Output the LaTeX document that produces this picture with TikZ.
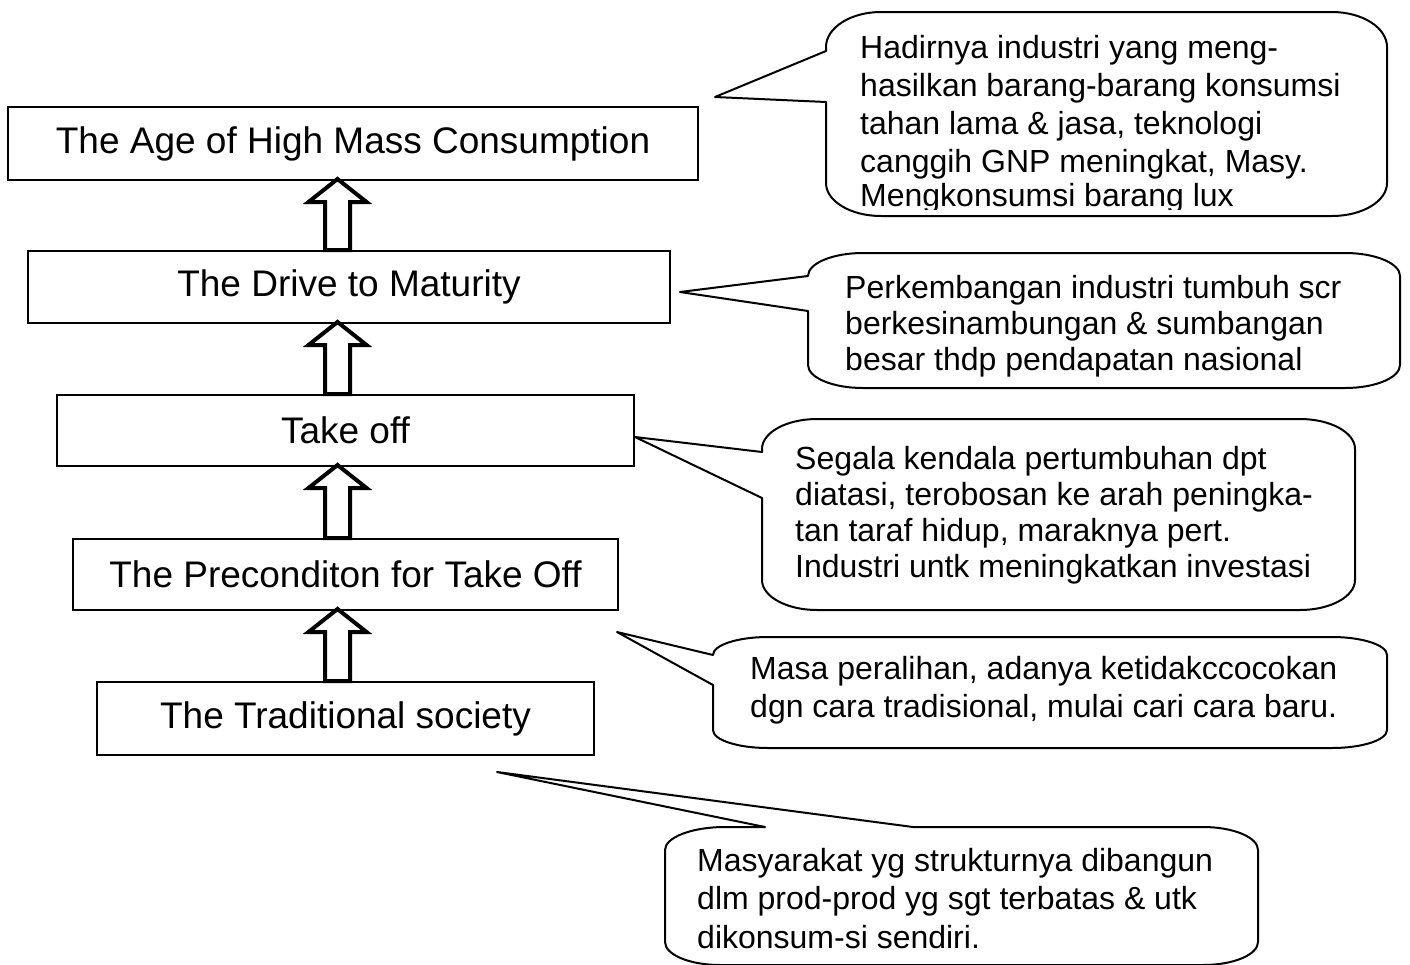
\documentclass[tikz,border=0pt]{standalone}
\usepackage{fontspec}
\setmainfont{Liberation Sans}
\usetikzlibrary{calc}
\newcommand\upblock[2]{%
  \path (#2.south -| ax) ++(0,-2) coordinate (T) (#1.north -| ax) coordinate (B);
  \draw[upblockstyle] ($(B)+(-12.5,0)$) -- ($(T)+(-12.5,23)$) -- ($(T)+(-29,23)$) -- (T)
     -- ($(T)+(29,23)$) -- ($(T)+(12.5,23)$) -- ($(B)+(12.5,0)$) -- cycle;}
\begin{document}
\begin{tikzpicture}[x=1pt,y=-1pt,
  stage/.style={draw, line width=2pt, inner sep=0pt, font=\fontsize{37}{44}\selectfont},
  upblockstyle/.style={draw, line width=4pt, fill=white, line join=miter},
  callout/.style={draw, line width=2pt, fill=white, line join=round},
  note/.style={anchor=north west, inner sep=0pt, align=left}]
\useasboundingbox (0,0) rectangle (1410,964);
\fill[white] (0,0) rectangle (1410,964);

% stages
\node[stage, minimum width=690, minimum height=73] (s5) at (353,143.5) {The Age of High Mass Consumption};
\node[stage, minimum width=642, minimum height=72] (s4) at (349,287) {The Drive to Maturity};
\node[stage, minimum width=577, minimum height=71] (s3) at (345.5,430.5) {Take off};
\node[stage, minimum width=545, minimum height=71] (s2) at (345.5,574.5) {The Preconditon for Take Off};
\node[stage, minimum width=497, minimum height=73] (s1) at (345.5,718.5) {The Traditional society};

\coordinate (ax) at (337.5,0);
\upblock{s4}{s5}
\upblock{s3}{s4}
\upblock{s2}{s3}
\upblock{s1}{s2}

% callout tips
\coordinate (c1) at (715,97);
\coordinate (c2) at (680,292);
\coordinate (c3) at (635,437);
\coordinate (c4) at (617,632);
\coordinate (c5) at (497,772);

% callout 1
\draw[callout] (826,51) -- (826,47) arc[start angle=180,end angle=270,x radius=55,y radius=35]
  -- (1332,12) arc[start angle=270,end angle=360,x radius=55,y radius=35]
  -- (1387,183) arc[start angle=0,end angle=90,x radius=55,y radius=33]
  -- (881,216) arc[start angle=90,end angle=180,x radius=55,y radius=33]
  -- (826,102) -- (c1) -- cycle;
\begin{scope}
\clip (826,12) rectangle (1387,209);
\node[note, font=\fontsize{32}{38}\selectfont] (t1) at (860,35) {Hadirnya industri yang meng-\\hasilkan barang-barang konsumsi\\tahan lama \& jasa, teknologi\\canggih GNP meningkat, Masy.\\[-4pt]Mengkonsumsi barang lux};
\end{scope}

% callout 2
\draw[callout] (808,276) arc[start angle=180,end angle=270,x radius=55,y radius=23]
  -- (1345,253) arc[start angle=270,end angle=360,x radius=55,y radius=23]
  -- (1400,365) arc[start angle=0,end angle=90,x radius=55,y radius=23]
  -- (863,388) arc[start angle=90,end angle=180,x radius=55,y radius=23]
  -- (808,311) -- (c2) -- cycle;
\node[note, font=\fontsize{32}{36}\selectfont] (t2) at (845,275) {Perkembangan industri tumbuh scr\\berkesinambungan \& sumbangan\\besar thdp pendapatan nasional};

% callout 3
\draw[callout] (762,452) -- (762,449) arc[start angle=180,end angle=270,x radius=55,y radius=30]
  -- (1300,419) arc[start angle=270,end angle=360,x radius=55,y radius=30]
  -- (1355,580) arc[start angle=0,end angle=90,x radius=55,y radius=30]
  -- (817,610) arc[start angle=90,end angle=180,x radius=55,y radius=30]
  -- (762,498) -- (c3) -- cycle;
\node[note, font=\fontsize{32}{36}\selectfont] (t3) at (795,446) {Segala kendala pertumbuhan dpt\\diatasi, terobosan ke arah peningka-\\tan taraf hidup, maraknya pert.\\Industri untk meningkatkan investasi};

% callout 4
\draw[callout] (713,655) arc[start angle=180,end angle=270,x radius=55,y radius=18]
  -- (1332,637) arc[start angle=270,end angle=360,x radius=55,y radius=18]
  -- (1387,730) arc[start angle=0,end angle=90,x radius=55,y radius=18]
  -- (768,748) arc[start angle=90,end angle=180,x radius=55,y radius=18]
  -- (713,685) -- (c4) -- cycle;
\node[note, font=\fontsize{32}{38}\selectfont] (t4) at (750,656) {Masa peralihan, adanya ketidakccocokan\\dgn cara tradisional, mulai cari cara baru.};

% callout 5
\draw[callout] (665,850) arc[start angle=180,end angle=270,x radius=60,y radius=23]
  -- (765,827) -- (c5) -- (913,827)
  -- (1203,827) arc[start angle=270,end angle=360,x radius=55,y radius=23]
  -- (1258,942) arc[start angle=0,end angle=90,x radius=55,y radius=23]
  -- (720,965) arc[start angle=90,end angle=180,x radius=55,y radius=23]
  -- cycle;
\node[note, font=\fontsize{32}{38.5}\selectfont] (t5) at (697,848) {Masyarakat yg strukturnya dibangun\\dlm prod-prod yg sgt terbatas \& utk\\dikonsum-si sendiri.};
\end{tikzpicture}
\end{document}
